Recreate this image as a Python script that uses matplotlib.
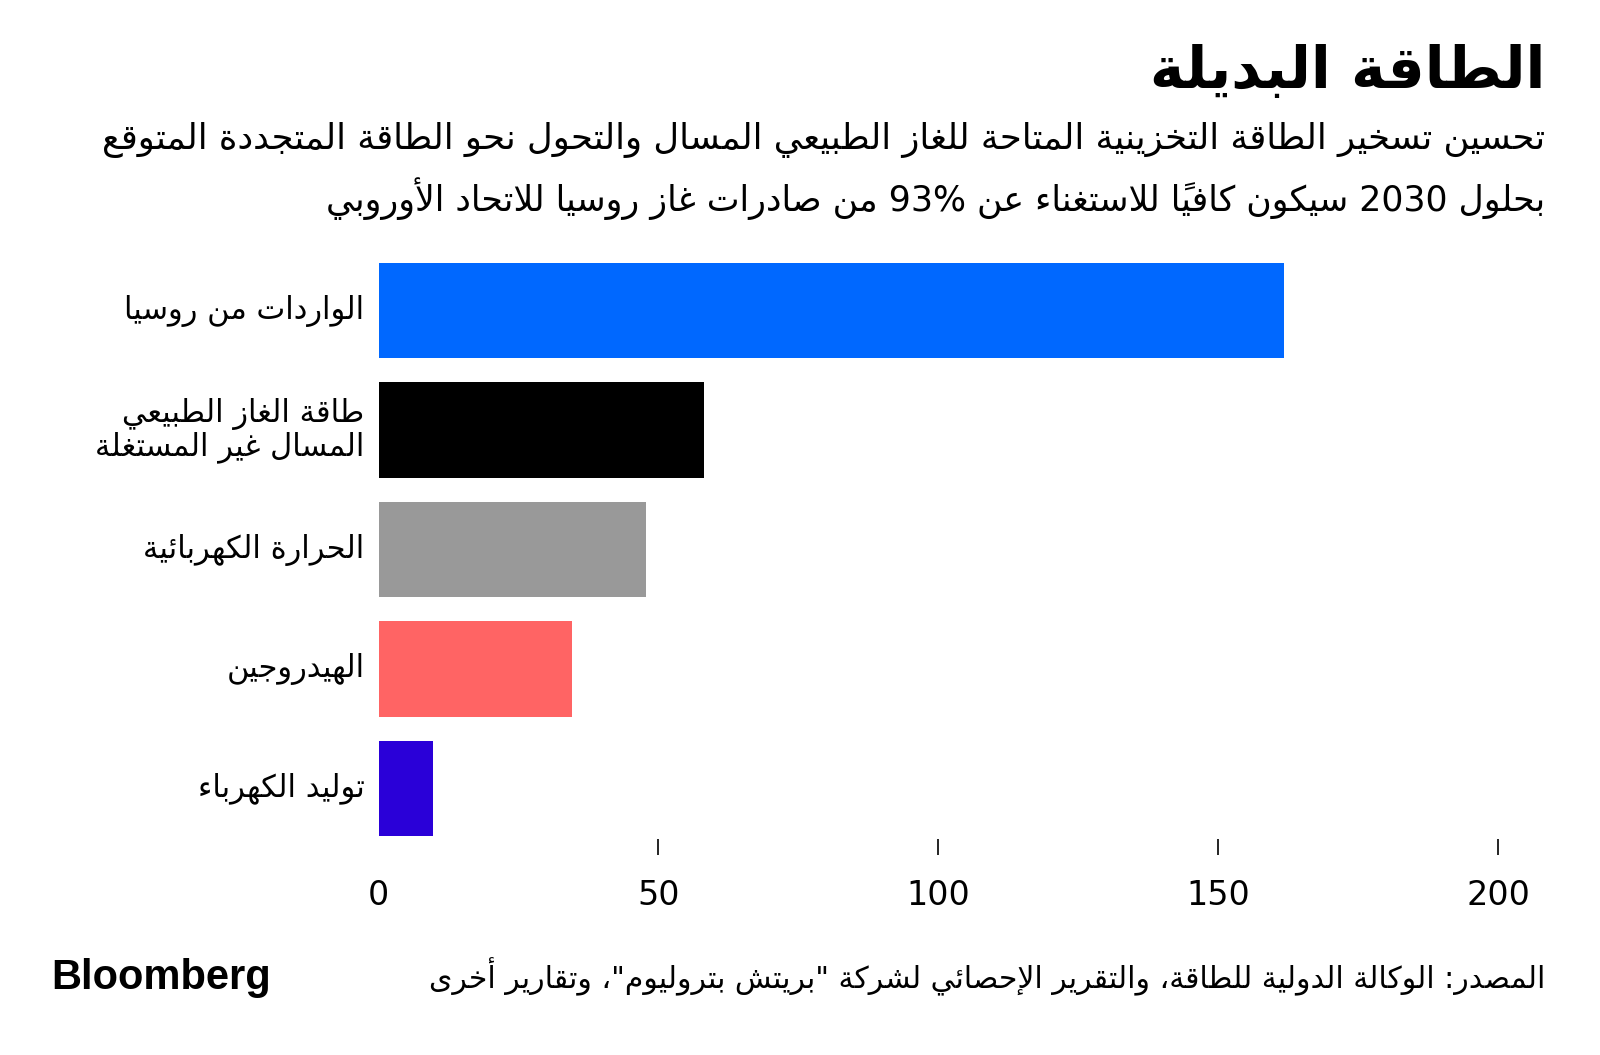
import matplotlib
matplotlib.use('Agg')
import matplotlib.pyplot as plt

#data
categories = ['الواردات من روسيا',
              'طاقة الغاز الطبيعي\nالمسال غير المستغلة',
              'الحرارة الكهربائية',
              'الهيدروجين',
              'توليد الكهرباء']
values = [161.7, 58.2, 47.8, 34.5, 9.7]
colors = ['#0068ff', '#000000', '#999999', '#ff6464', '#2a00d8']
xticks = [0, 50, 100, 150, 200]

title = 'الطاقة البديلة'
subtitle = ['تحسين تسخير الطاقة التخزينية المتاحة للغاز الطبيعي المسال والتحول نحو الطاقة المتجددة المتوقع',
            'بحلول 2030 سيكون كافياً للاستغناء عن 93% من صادرات غاز روسيا للاتحاد الأوروبي']
source = 'المصدر: الوكالة الدولية للطاقة، والتقرير الإحصائي لشركة "بريتش بتروليوم"، وتقارير أخرى'

#minimal arabic shaping (matplotlib has no complex text layout)
DUAL = {'ئ': 0xFE89, 'ب': 0xFE8F, 'ت': 0xFE95, 'ث': 0xFE99, 'ج': 0xFE9D, 'ح': 0xFEA1,
        'خ': 0xFEA5, 'س': 0xFEB1, 'ش': 0xFEB5, 'ص': 0xFEB9, 'ض': 0xFEBD, 'ط': 0xFEC1,
        'ظ': 0xFEC5, 'ع': 0xFEC9, 'غ': 0xFECD, 'ف': 0xFED1, 'ق': 0xFED5, 'ك': 0xFED9,
        'ل': 0xFEDD, 'م': 0xFEE1, 'ن': 0xFEE5, 'ه': 0xFEE9, 'ي': 0xFEF1}
RIGHT = {'آ': 0xFE81, 'أ': 0xFE83, 'ؤ': 0xFE85, 'إ': 0xFE87, 'ا': 0xFE8D, 'ة': 0xFE93,
         'د': 0xFEA9, 'ذ': 0xFEAB, 'ر': 0xFEAD, 'ز': 0xFEAF, 'و': 0xFEED, 'ى': 0xFEEF}
LAMALEF = {'آ': 0xFEF5, 'أ': 0xFEF7, 'إ': 0xFEF9, 'ا': 0xFEFB}


def is_mark(c):
    return 0x064B <= ord(c) <= 0x065F or ord(c) == 0x0670


def is_ltr(c):
    return c.isascii() and (c.isalnum() or c == '%')


def shape(line):
    chars = list(line)
    n = len(chars)
    out = []
    i = 0
    while i < n:
        c = chars[i]
        if c not in DUAL and c not in RIGHT:
            out.append(c)
            i += 1
            continue
        # neighbours, skipping marks
        p = i - 1
        while p >= 0 and is_mark(chars[p]):
            p -= 1
        q = i + 1
        while q < n and is_mark(chars[q]):
            q += 1
        prev = chars[p] if p >= 0 else ''
        nxt = chars[q] if q < n else ''
        join_prev = prev in DUAL
        if c == 'ل' and nxt in LAMALEF:
            base = LAMALEF[nxt]
            out.append(chr(base + (1 if join_prev else 0)))
            out.extend(chars[i + 1:q])
            i = q + 1
            continue
        join_next = c in DUAL and (nxt in DUAL or nxt in RIGHT)
        if c in DUAL:
            base = DUAL[c]
            if join_prev and join_next:
                out.append(chr(base + 3))
            elif join_prev:
                out.append(chr(base + 1))
            elif join_next:
                out.append(chr(base + 2))
            else:
                out.append(chr(base))
        else:
            out.append(chr(RIGHT[c] + (1 if join_prev else 0)))
        i += 1
    # visual order: reverse clusters, keep latin / number runs in order
    tokens = []
    for c in out:
        if is_mark(c) and tokens:
            tokens[-1] += c
        elif is_ltr(c) and tokens and is_ltr(tokens[-1][-1]):
            tokens[-1] += c
        else:
            tokens.append(c)
    return ''.join(reversed(tokens))


def ar(text):
    return '\n'.join(shape(l) for l in text.split('\n'))


plt.rcParams['font.family'] = ['DejaVu Sans']

fig = plt.figure(figsize=(16, 10.55), dpi=100)
ax = fig.add_axes([0.2366, 0.2052, 0.6997, 0.5626])

ypos = list(range(len(values)))
ax.barh(ypos, values, height=0.8, color=colors)
ax.set_xlim(0, 200)
ax.set_ylim(4.42, -0.55)
ax.set_yticks([])
ax.set_xticks(xticks)
ax.set_xticklabels([str(t) for t in xticks], fontsize=24)
ax.tick_params(axis='x', direction='out', length=11.5, width=1.2, pad=18, color='black')
ax.xaxis.get_major_ticks()[0].tick1line.set_visible(False)
for s in ax.spines.values():
    s.set_visible(False)

#category labels
for y, lab in zip(ypos, categories):
    ax.text(-2.5, y, ar(lab), ha='right', va='center', fontsize=22,
            linespacing=1.05)

#title, subtitle, footer
fig.text(0.966, 1 - 72 / 1055, ar(title), ha='right', va='center',
         fontsize=42, fontweight='bold')
fig.text(0.966, 1 - 140 / 1055, ar(subtitle[0]), ha='right', va='center', fontsize=25.5)
fig.text(0.966, 1 - 199 / 1055, ar(subtitle[1]), ha='right', va='center', fontsize=25)
fig.text(0.966, 1 - 977 / 1055, ar(source), ha='right', va='center', fontsize=21.5)
fig.text(0.032, 1 - 978 / 1055, 'Bloomberg', ha='left', va='center',
         fontsize=30, fontweight='bold', family='Liberation Sans')

fig.savefig('out.png', dpi=100, facecolor='white')
